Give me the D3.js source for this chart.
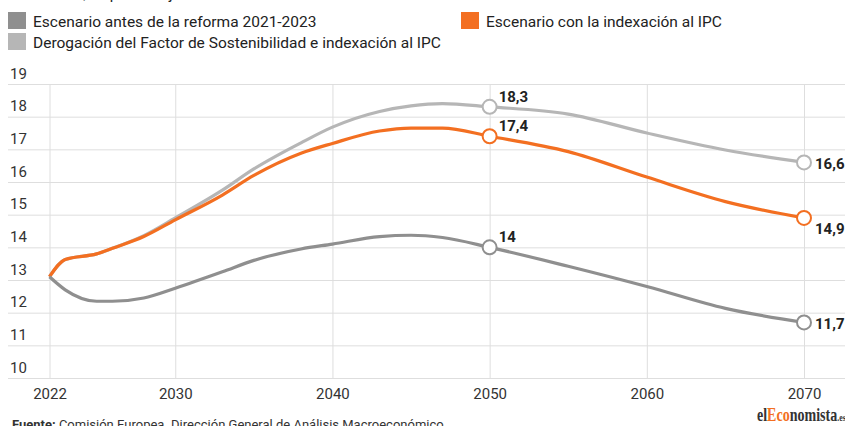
<!DOCTYPE html>
<html>
<head>
  <meta charset="UTF-8">
  <title>Gasto en pensiones - escenarios</title>
  <script src="https://cdn.jsdelivr.net/npm/d3@7"></script>
  <style>
    body { margin: 0; background: #fff; }
    text { font-family: Roboto, "Noto Sans", sans-serif; }
  </style>
</head>
<body>
  <div id="chart"></div>
  <script>
  // ---------------------------------------------------
  // Datos
  // ---------------------------------------------------
  var years = [2022, 2023, 2025, 2026, 2028, 2030, 2033, 2035, 2038, 2040, 2043, 2045, 2047, 2050, 2055, 2060, 2065, 2070];
  var antes = [13.1, 12.7, 12.35, 12.35, 12.45, 12.75, 13.25, 13.6, 13.95, 14.1, 14.33, 14.37, 14.3, 14.0, 13.42, 12.8, 12.13, 11.7];
  var ipc = [13.1, 13.63, 13.8, 13.97, 14.33, 14.84, 15.6, 16.2, 16.88, 17.18, 17.56, 17.65, 17.65, 17.4, 16.93, 16.15, 15.4, 14.9];
  var derogacion = [13.1, 13.63, 13.8, 13.97, 14.36, 14.9, 15.75, 16.4, 17.2, 17.68, 18.16, 18.33, 18.4, 18.3, 18.08, 17.5, 16.98, 16.6];

  var xTicks = [2022, 2030, 2040, 2050, 2060, 2070];
  var yTicks = [10, 11, 12, 13, 14, 15, 16, 17, 18, 19];
  var markedYears = [2050, 2070];

  var series = [
    { name: "Derogación del Factor de Sostenibilidad e indexación al IPC", values: derogacion, color: "#b6b6b6" },
    { name: "Escenario con la indexación al IPC", values: ipc, color: "#f36f21" },
    { name: "Escenario antes de la reforma 2021-2023", values: antes, color: "#8f8f8f" }
  ];

  // ---------------------------------------------------
  // Lienzo y escalas
  // ---------------------------------------------------
  var width = 845, height = 426;
  var svg = d3.select("#chart").append("svg")
    .attr("width", width)
    .attr("height", height);

  var x = d3.scaleLinear().domain([2022, 2070]).range([49.5, 804]);
  var y = d3.scaleLinear().domain([10, 19]).range([378, 84]);

  // titulo cortado arriba (como en el original)
  svg.append("text")
    .attr("x", 10).attr("y", -1.5)
    .style("font-size", "15px").style("fill", "#222")
    .text("Gasto total, en porcentaje del PIB");

  // ejes con rejilla
  var yAxis = svg.append("g")
    .attr("transform", "translate(8,0)")
    .call(d3.axisRight(y).tickValues(yTicks).tickSize(width - 8).tickFormat(d3.format("d")));
  yAxis.select(".domain").remove();
  yAxis.selectAll("line").attr("stroke", "#dedede");
  yAxis.selectAll("text")
    .attr("x", 2).attr("dy", -6)
    .style("font-size", "15px").style("fill", "#333")
    .style("font-family", "Roboto, sans-serif");

  var xAxis = svg.append("g")
    .attr("transform", "translate(0," + y(10) + ")")
    .call(d3.axisBottom(x).tickValues(xTicks).tickSize(-(y(10) - y(19))).tickFormat(d3.format("d")));
  xAxis.select(".domain").remove();
  xAxis.selectAll("line").attr("stroke", "#dedede");
  xAxis.selectAll("text")
    .attr("y", 21).attr("dy", 0)
    .style("font-size", "15px").style("fill", "#333")
    .style("font-family", "Roboto, sans-serif");

  // ---------------------------------------------------
  // Lineas
  // ---------------------------------------------------
  var line = d3.line()
    .x(function (d, i) { return x(years[i]); })
    .y(function (d) { return y(d); })
    .curve(d3.curveMonotoneX);

  svg.selectAll(".serie").data(series).enter()
    .append("path")
    .attr("class", "serie")
    .attr("fill", "none")
    .attr("stroke", function (d) { return d.color; })
    .attr("stroke-width", 3.2)
    .attr("stroke-linejoin", "round")
    .attr("d", function (d) { return line(d.values); });

  // puntos marcados y etiquetas
  var fmt = function (v) { return String(v).replace(".", ","); };
  var points = [];
  series.forEach(function (s) {
    markedYears.forEach(function (yr) {
      points.push({ year: yr, value: s.values[years.indexOf(yr)], color: s.color, serie: s.name });
    });
  });

  svg.selectAll(".punto").data(points).enter()
    .append("circle")
    .attr("class", "punto")
    .attr("cx", function (d) { return x(d.year); })
    .attr("cy", function (d) { return y(d.value); })
    .attr("r", 7)
    .attr("fill", "#fff")
    .attr("stroke", function (d) { return d.color; })
    .attr("stroke-width", 2);

  svg.selectAll(".etiqueta").data(points).enter()
    .append("text")
    .attr("class", "etiqueta")
    .attr("x", function (d) { return x(d.year) + (d.year === 2070 ? 11 : 9); })
    .attr("y", function (d) {
      if (d.year === 2070) {
        return y(d.value) + (d.color === "#f36f21" ? 16 : 7);
      }
      return y(d.value) - 5;
    })
    .style("font-size", "15px").style("font-weight", "bold").style("fill", "#222")
    .text(function (d) { return fmt(d.value); });

  // ---------------------------------------------------
  // Leyenda
  // ---------------------------------------------------
  var legendPos = [
    { x: 8, y: 33 },     // derogacion
    { x: 461, y: 12 },   // IPC
    { x: 8, y: 12 }      // antes
  ];
  var legend = svg.selectAll(".leyenda").data(series).enter()
    .append("g")
    .attr("class", "leyenda")
    .attr("transform", function (d, i) {
      return "translate(" + legendPos[i].x + "," + legendPos[i].y + ")";
    });
  legend.append("rect")
    .attr("width", 18).attr("height", 17)
    .attr("fill", function (d) { return d.color; });
  legend.append("text")
    .attr("x", 25).attr("y", 15)
    .style("font-size", "15.5px").style("fill", "#222")
    .text(function (d) { return d.name; });

  // ---------------------------------------------------
  // Fuente y logo
  // ---------------------------------------------------
  var fuente = svg.append("text")
    .attr("x", 12).attr("y", 429)
    .style("font-size", "13px").style("fill", "#333");
  fuente.append("tspan").style("font-weight", "bold").text("Fuente:");
  fuente.append("tspan").text(" Comisión Europea. Dirección General de Análisis Macroeconómico");

  var logo = svg.append("text")
    .attr("transform", "translate(757,421) scale(0.78,1)")
    .style("font-family", "'Liberation Serif', 'DejaVu Serif', serif")
    .style("font-weight", "bold")
    .style("font-size", "18px")
    .style("fill", "#333");
  logo.append("tspan").text("el");
  logo.append("tspan").style("fill", "#f36f21").text("Eco");
  logo.append("tspan").text("nomista");
  logo.append("tspan").style("font-size", "10px").text(".es");
  </script>
</body>
</html>
